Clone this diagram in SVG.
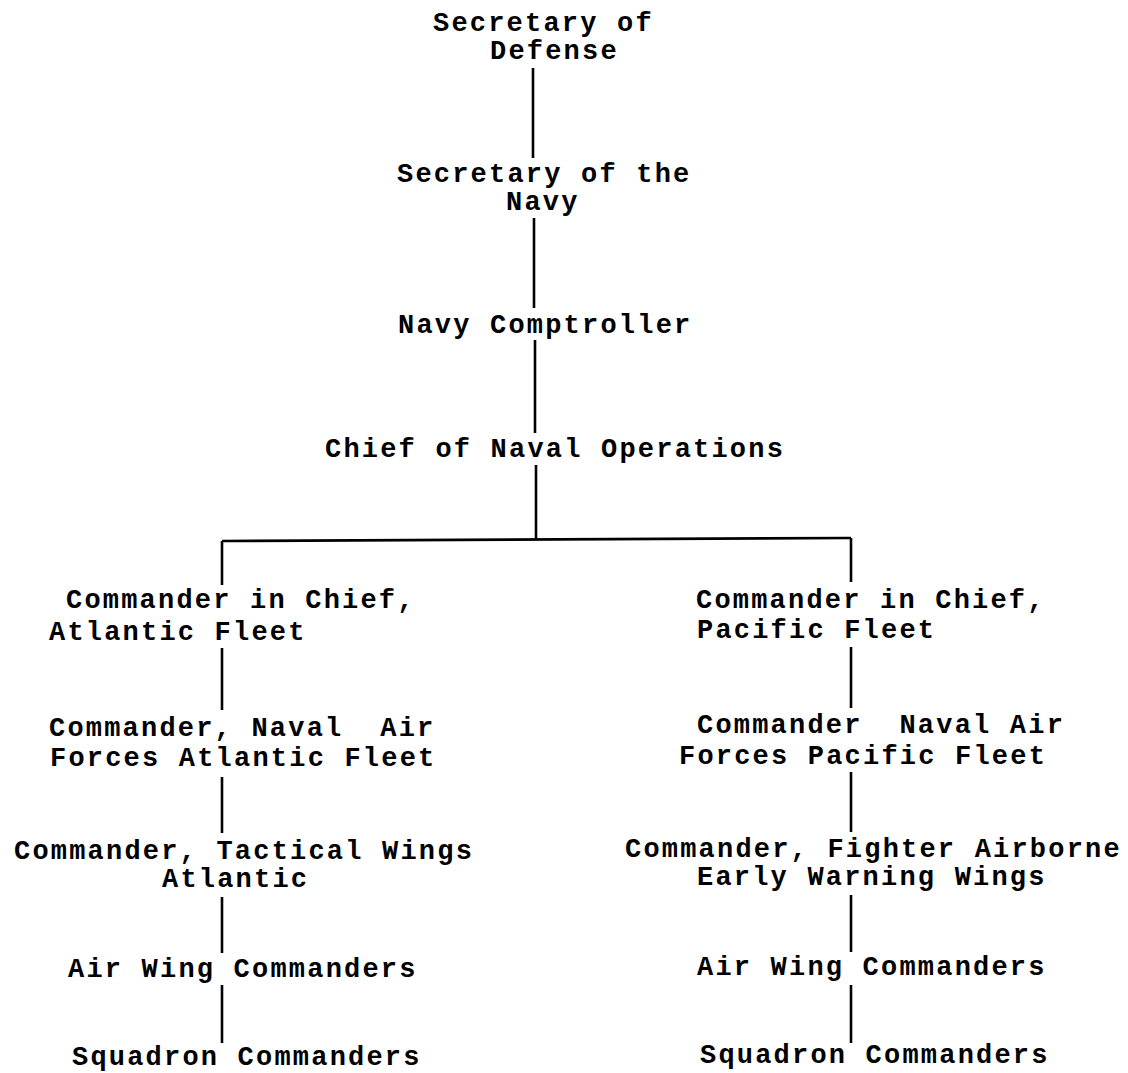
<svg xmlns="http://www.w3.org/2000/svg" width="1128" height="1073" viewBox="0 0 1128 1073">
<style>
text{font-family:"Liberation Mono","DejaVu Sans Mono",monospace;font-weight:bold;font-size:27px;letter-spacing:2.2px;fill:#000;white-space:pre}
.c line{stroke:#000;stroke-width:2.6;stroke-linecap:butt}
</style>
<rect width="1128" height="1073" fill="#fff"/>
<g id="connectors" class="c">
<line x1="533" y1="68" x2="533" y2="158"/>
<line x1="534" y1="218" x2="534" y2="308"/>
<line x1="535" y1="340" x2="535" y2="433"/>
<line x1="536" y1="465" x2="536" y2="540"/>
<line x1="222" y1="541" x2="851" y2="538"/>
<line x1="222" y1="541" x2="222" y2="585"/>
<line x1="851" y1="538" x2="851" y2="582"/>
<line x1="222" y1="648" x2="222" y2="710"/>
<line x1="222" y1="777" x2="222" y2="833"/>
<line x1="222" y1="897" x2="222" y2="953"/>
<line x1="222" y1="985" x2="222" y2="1043"/>
<line x1="851" y1="647" x2="851" y2="708"/>
<line x1="851" y1="772" x2="851" y2="832"/>
<line x1="851" y1="895" x2="851" y2="952"/>
<line x1="851" y1="985" x2="851" y2="1043"/>
</g>
<g id="secdef"><text x="433" y="31">Secretary of</text><text x="490" y="59">Defense</text></g>
<g id="secnav"><text x="397" y="182">Secretary of the</text><text x="506" y="210">Navy</text></g>
<g id="comptroller"><text x="398" y="333">Navy Comptroller</text></g>
<g id="cno"><text x="325" y="457">Chief of Naval Operations</text></g>
<g id="cinclant"><text x="66" y="608">Commander in Chief,</text><text x="49" y="640">Atlantic Fleet</text></g>
<g id="cincpac"><text x="696" y="608">Commander in Chief,</text><text x="697" y="638">Pacific Fleet</text></g>
<g id="navairlant"><text x="49" y="736">Commander, Naval  Air</text><text x="50" y="766">Forces Atlantic Fleet</text></g>
<g id="navairpac"><text x="697" y="733">Commander  Naval Air</text><text x="679" y="764">Forces Pacific Fleet</text></g>
<g id="tacwings"><text x="14" y="859">Commander, Tactical Wings</text><text x="162" y="887">Atlantic</text></g>
<g id="aewwings"><text x="625" y="857">Commander, Fighter Airborne</text><text x="697" y="885">Early Warning Wings</text></g>
<g id="airwing-lant"><text x="68" y="977">Air Wing Commanders</text></g>
<g id="airwing-pac"><text x="697" y="975">Air Wing Commanders</text></g>
<g id="sqn-lant"><text x="72" y="1065">Squadron Commanders</text></g>
<g id="sqn-pac"><text x="700" y="1063">Squadron Commanders</text></g>
</svg>
